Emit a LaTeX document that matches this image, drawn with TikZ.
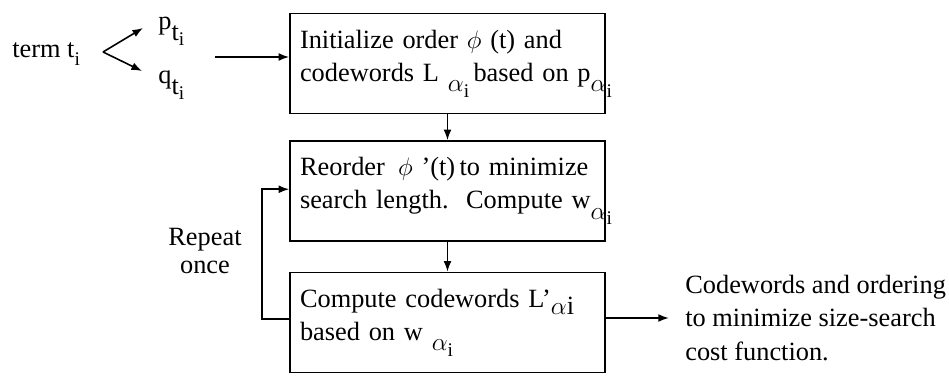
\documentclass[tikz,border=0pt]{standalone}
\usepackage{fontspec}
\setmainfont{Liberation Serif}
\usetikzlibrary{arrows.meta}
\newcommand{\lowi}[1]{\raisebox{-#1}{\fontsize{11}{11}\selectfont i}}
\newcommand{\subal}{\raisebox{-6pt}{$\alpha$\lowi{3pt}}}
\newcommand{\subt}{\raisebox{-6pt}{t\lowi{3pt}}}
\tikzset{
  stagebox/.style={draw, line width=1pt, minimum width=6.3cm, minimum height=2cm,
    text width=5.9cm, align=left, inner xsep=0.2cm, inner ysep=0pt,
    font=\fontsize{15}{19}\selectfont},
  flow/.style={-{Latex[length=6pt,width=4.5pt]}, line width=0.9pt},
  label/.style={inner sep=0pt, font=\fontsize{15}{19}\selectfont}
}
\begin{document}
\begin{tikzpicture}[x=0.02cm,y=-0.02cm]
\useasboundingbox (0,0) rectangle (949,391);
% input side
\node[label,anchor=base west] (term) at (12,58) {term t\lowi{4pt}};
\node[label,anchor=base west] (p) at (158,30) {p\subt};
\node[label,anchor=base west] (q) at (158,84) {q\subt};
\coordinate (fork) at (103,52);
\coordinate (pin) at (143,28);
\coordinate (qin) at (142,71);
\coordinate (pq) at (215,57);
\draw[flow] (fork)--(pin);
\draw[flow] (fork)--(qin);
% the three stages
\node[stagebox] (init) at (447.5,63.5) {\mbox{Initialize order $\phi$ (t) and}\\\mbox{codewords L \subal\,based on p\subal}};
\node[stagebox] (reorder) at (447.5,191) {\mbox{Reorder\, $\phi$ '(t)\,to minimize}\\\mbox{search length.\ \ Compute w\subal}};
\node[stagebox] (compute) at (447.5,322.5) {\mbox{Compute codewords L'\raisebox{-4pt}{$\alpha$i}}\\\mbox{based on w \subal}};
\draw[flow] (pq)--(init.west|-pq);
\draw[flow] (init)--(reorder);
\draw[flow] (reorder)--(compute);
% loop back
\node[label,align=center,font=\fontsize{15}{16}\selectfont] (rep) at (205,251) {Repeat\\once};
\draw[flow] ([yshift=2pt]compute.west)--++(-27,0)|-([yshift=1pt]reorder.west);
% result
\node[label,anchor=west,align=left] (result) at (685,318) {Codewords and ordering\\to minimize size-search\\cost function.};
\draw[flow] (compute.east|-result.west)--++(63,0);
\end{tikzpicture}
\end{document}
